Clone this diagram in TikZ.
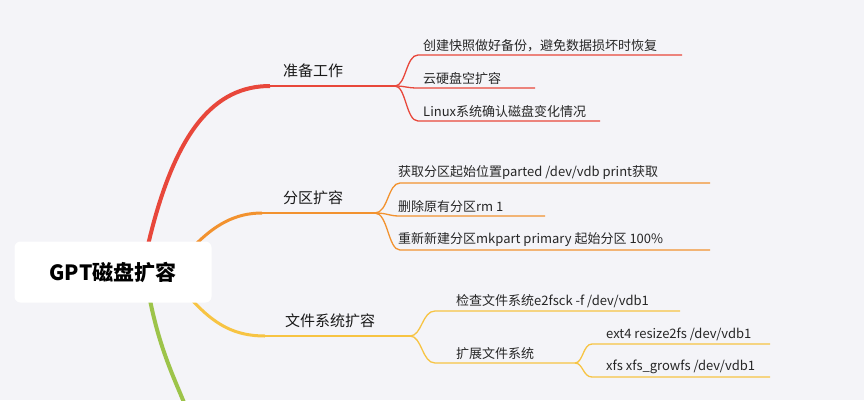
\documentclass[tikz,border=0pt]{standalone}
\usepackage{fontspec}
\setmainfont{Noto Sans CJK SC}
\definecolor{bgc}{HTML}{F4F4F8}
\definecolor{cred}{HTML}{E8473B}
\definecolor{corange}{HTML}{F2922F}
\definecolor{cyellow}{HTML}{F7C443}
\definecolor{cgreen}{HTML}{9DC44A}
\tikzset{
  leaf/.style={anchor=south west,inner sep=1pt,font=\fontsize{13}{15}\selectfont,text=black!85},
  topic/.style={anchor=south,inner sep=2pt,font=\fontsize{15}{17}\selectfont,text=black!90},
  thin/.style={line width=1.3pt},
}
\begin{document}
\begin{tikzpicture}[x=1pt,y=-1pt]
\fill[bgc](0,0)rectangle(864,400);
\useasboundingbox(0,0)rectangle(864,400);
% main branches
\draw[cgreen,line width=4pt](150,300)..controls(160,350)and(175,380)..(185,405);
\draw[cred,line width=4pt](148,245)..controls(175,130)and(215,86)..(270,86);
\draw[cred,thin](270,86)--(395,86);
\draw[corange,line width=3pt](195,245)..controls(215,225)and(235,213)..(262,213);
\draw[corange,thin](262,213)--(375,213);
\draw[cyellow,line width=3pt](192,300)..controls(215,325)and(235,336)..(265,336);
\draw[cyellow,thin](265,336)--(410,336);
\node[fill=white,rounded corners=6pt,minimum width=197pt,minimum height=61pt,font=\fontsize{21}{24}\selectfont\bfseries](root)at(113,272){GPT磁盘扩容};
\node[topic](prep)at(313,80){准备工作};
\node[topic](part)at(313,207){分区扩容};
\node[topic](fs)at(330,330){文件系统扩容};
% red leaves
\foreach \y/\e/\t in {55/682/{创建快照做好备份，避免数据损坏时恢复},88/535/{云硬盘空扩容},121/600/{Linux系统确认磁盘变化情况}}{
  \draw[cred,thin](395,86)..controls(406,86)and(406,\y)..(418,\y)--(\e,\y);
  \node[leaf]at(422,\y-2){\t};
}
% orange leaves
\foreach \y/\e/\t in {183/710/{获取分区起始位置parted /dev/vdb print获取},216/545/{删除原有分区rm 1},250/710/{重新新建分区mkpart primary 起始分区 100\%}}{
  \draw[corange,thin](375,213)..controls(388,213)and(388,\y)..(400,\y)--(\e,\y);
  \node[leaf]at(397,\y-2){\t};
}
% yellow leaves
\draw[cyellow,thin](410,336)..controls(422,336)and(422,311)..(435,311)--(680,311);
\node[leaf](chk)at(455,309){检查文件系统e2fsck -f /dev/vdb1};
\draw[cyellow,thin](410,336)..controls(422,336)and(422,363)..(435,363)--(575,363);
\node[leaf](ext)at(455,361){扩展文件系统};
\foreach \y/\t in {344/{ext4 resize2fs /dev/vdb1},377/{xfs xfs\_growfs /dev/vdb1}}{
  \draw[cyellow,thin](575,363)..controls(583,363)and(583,\y)..(592,\y)--(770,\y);
  \node[leaf]at(605,\y-2){\t};
}
\end{tikzpicture}
\end{document}
